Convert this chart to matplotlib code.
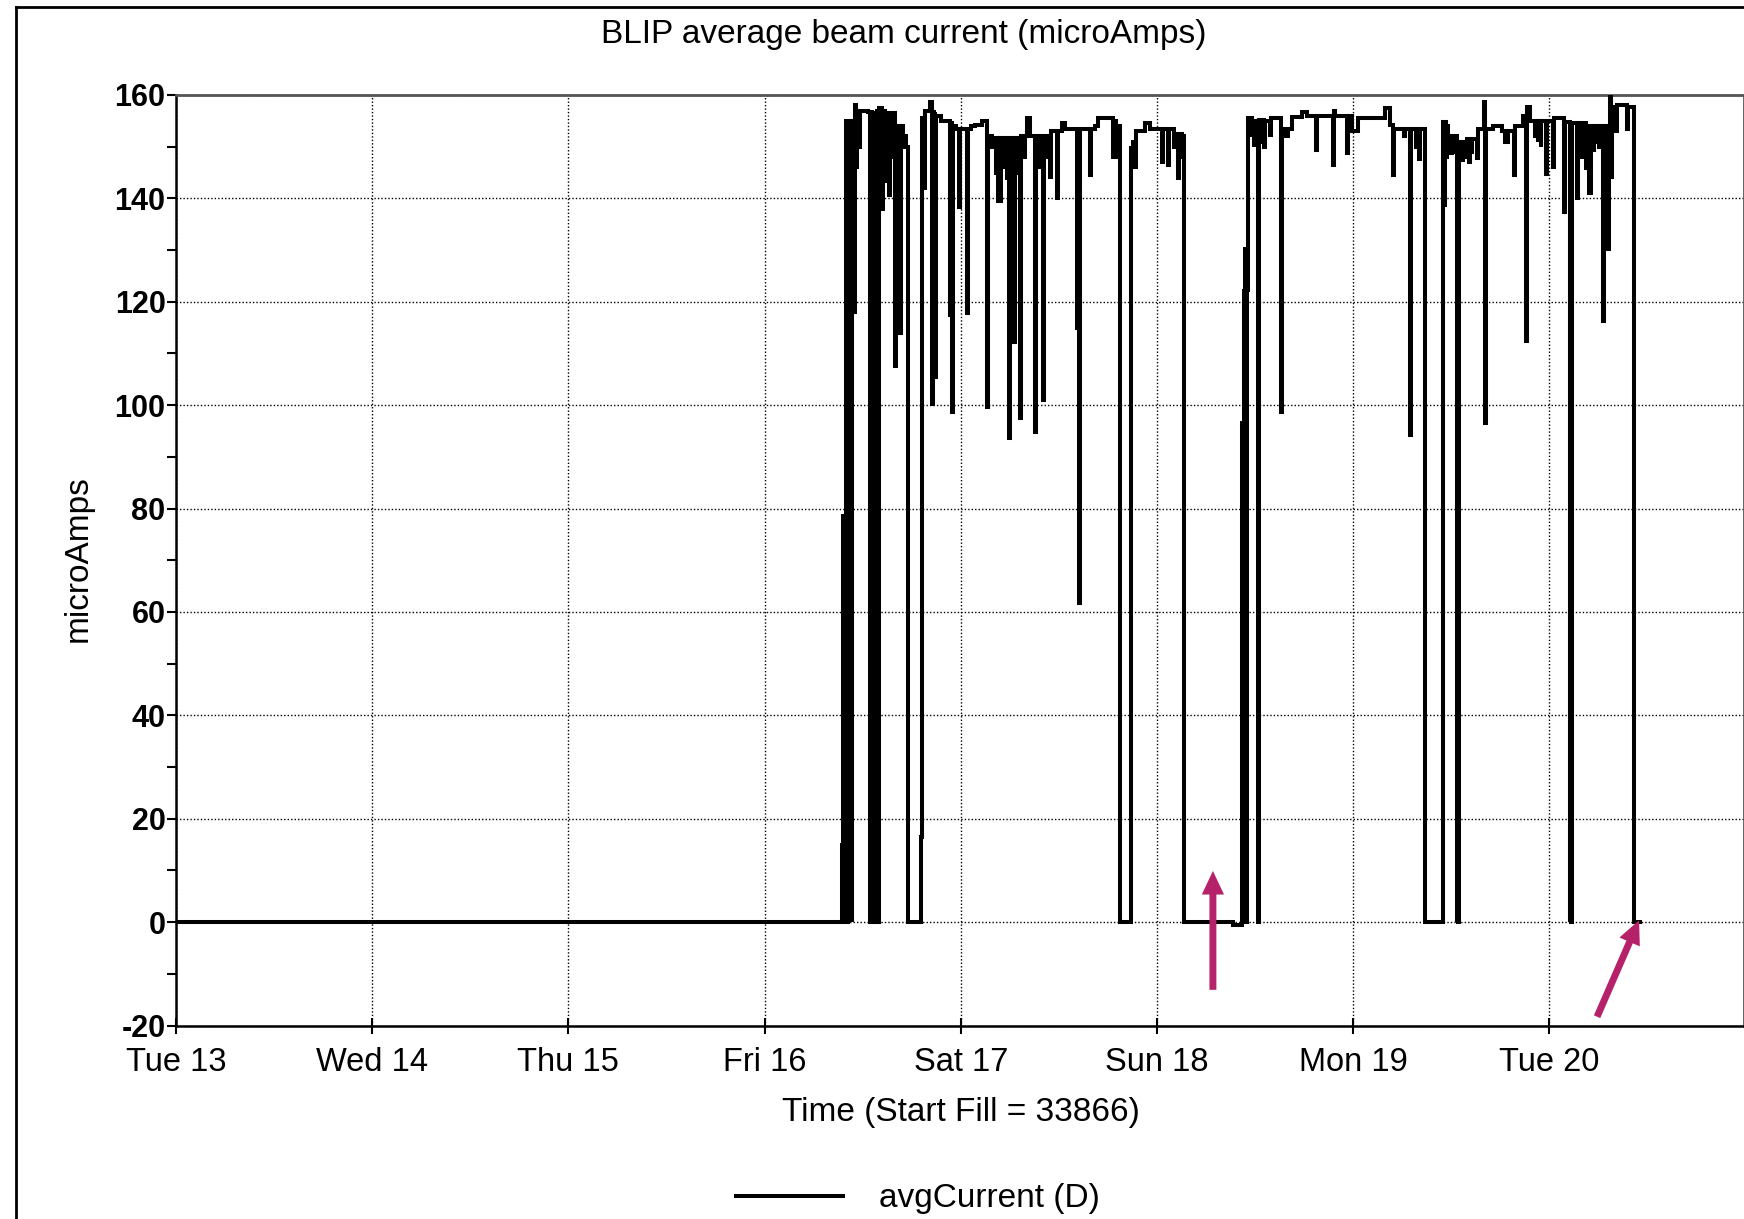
import matplotlib
matplotlib.use('Agg')
import matplotlib.pyplot as plt
from matplotlib.patches import ArrowStyle
from matplotlib.lines import Line2D
from matplotlib.ticker import MultipleLocator, FixedLocator

plt.rcParams['font.family'] = ['Liberation Sans', 'DejaVu Sans']
plt.rcParams['axes.unicode_minus'] = False

# ---------------- data ----------------
title = "BLIP average beam current (microAmps)"
x_label = "Time (Start Fill = 33866)"
y_label = "microAmps"
series_name = "avgCurrent (D)"
day_labels = ['Tue 13', 'Wed 14', 'Thu 15', 'Fri 16', 'Sat 17',
              'Sun 18', 'Mon 19', 'Tue 20', 'Wed 21']
y_ticks = [-20, 0, 20, 40, 60, 80, 100, 120, 140, 160]

# time in days since Tue 13 00:00 (step data)
t_days = [
    0.000, 3.396, 3.402, 3.409, 3.413, 3.419, 3.423, 3.430, 3.434, 3.440,
    3.444, 3.448, 3.454, 3.459, 3.468, 3.473, 3.483, 3.487, 3.529, 3.536,
    3.540, 3.545, 3.550, 3.556, 3.560, 3.567, 3.571, 3.578, 3.583, 3.589,
    3.593, 3.600, 3.604, 3.612, 3.616, 3.624, 3.628, 3.636, 3.640, 3.650,
    3.654, 3.665, 3.670, 3.680, 3.685, 3.690, 3.695, 3.705, 3.712, 3.720,
    3.733, 3.798, 3.804, 3.812, 3.816, 3.843, 3.851, 3.856, 3.862, 3.866,
    3.870, 3.874, 3.900, 3.930, 3.944, 3.949, 3.954, 3.960, 3.978, 3.990,
    3.996, 4.030, 4.036, 4.050, 4.073, 4.107, 4.134, 4.140, 4.160, 4.165,
    4.180, 4.185, 4.192, 4.197, 4.201, 4.206, 4.212, 4.216, 4.225, 4.230,
    4.237, 4.241, 4.248, 4.253, 4.262, 4.267, 4.272, 4.277, 4.282, 4.286,
    4.290, 4.295, 4.304, 4.309, 4.320, 4.325, 4.336, 4.353, 4.378, 4.383,
    4.395, 4.400, 4.420, 4.425, 4.440, 4.445, 4.455, 4.460, 4.488, 4.493,
    4.514, 4.531, 4.590, 4.604, 4.609, 4.659, 4.664, 4.685, 4.700, 4.760,
    4.775, 4.780, 4.790, 4.795, 4.810, 4.870, 4.880, 4.888, 4.893, 4.939,
    4.964, 5.024, 5.029, 5.054, 5.059, 5.085, 5.090, 5.105, 5.110, 5.125,
    5.130, 5.139, 5.388, 5.431, 5.443, 5.447, 5.452, 5.458, 5.466, 5.482,
    5.487, 5.492, 5.496, 5.515, 5.520, 5.530, 5.534, 5.545, 5.549, 5.575,
    5.582, 5.631, 5.636, 5.660, 5.667, 5.686, 5.737, 5.762, 5.810, 5.815,
    5.895, 5.900, 5.907, 5.966, 5.972, 5.992, 6.026, 6.162, 6.187, 6.204,
    6.210, 6.260, 6.266, 6.289, 6.294, 6.318, 6.323, 6.336, 6.341, 6.365,
    6.459, 6.465, 6.470, 6.475, 6.479, 6.485, 6.497, 6.503, 6.510, 6.514,
    6.527, 6.531, 6.535, 6.540, 6.553, 6.558, 6.565, 6.569, 6.578, 6.590,
    6.594, 6.600, 6.605, 6.629, 6.635, 6.638, 6.666, 6.670, 6.675, 6.714,
    6.757, 6.774, 6.790, 6.821, 6.826, 6.867, 6.879, 6.884, 6.901, 6.925,
    6.930, 6.940, 6.944, 6.955, 6.959, 6.983, 6.988, 7.017, 7.022, 7.076,
    7.082, 7.103, 7.107, 7.111, 7.116, 7.142, 7.148, 7.160, 7.164, 7.185,
    7.190, 7.204, 7.210, 7.225, 7.229, 7.240, 7.245, 7.255, 7.259, 7.275,
    7.280, 7.300, 7.305, 7.311, 7.315, 7.320, 7.340, 7.344, 7.368, 7.394,
    7.400, 7.432, 7.460,
]
avg_current = [
    0.0, 15.0, 78.6, 0.0, 155.0, 0.0, 154.8, 114.0, 155.0, 117.8,
    0.0, 155.0, 118.0, 158.0, 146.0, 157.0, 150.0, 157.0, 156.8, 0.0,
    156.8, 0.0, 156.0, 0.0, 156.5, 0.0, 157.0, 0.0, 157.4, 142.0,
    157.4, 138.0, 157.0, 143.0, 156.5, 145.0, 156.5, 140.7, 156.5, 148.0,
    156.5, 107.5, 154.0, 113.9, 154.0, 114.0, 154.0, 150.0, 152.0, 150.0,
    0.0, 16.5, 155.6, 142.0, 157.0, 158.7, 100.2, 156.8, 105.5, 156.8,
    105.5, 156.0, 155.0, 155.0, 117.5, 154.5, 98.7, 154.0, 153.5, 138.4,
    153.5, 117.8, 153.5, 154.0, 154.2, 155.0, 99.7, 152.0, 150.0, 151.6,
    145.0, 151.6, 139.4, 151.6, 139.4, 151.6, 147.0, 151.6, 146.0, 151.6,
    144.0, 151.6, 93.6, 151.6, 112.3, 151.6, 112.3, 151.6, 146.0, 151.6,
    145.0, 151.6, 97.6, 152.0, 148.0, 152.0, 155.5, 152.0, 94.9, 152.0,
    146.0, 152.0, 101.0, 152.0, 148.0, 152.0, 144.2, 153.0, 140.0, 153.0,
    154.5, 153.5, 114.9, 61.7, 153.5, 144.5, 153.5, 154.0, 155.5, 155.5,
    148.0, 155.0, 148.0, 154.0, 0.0, 149.7, 151.0, 146.0, 153.0, 154.5,
    153.5, 147.0, 153.5, 146.5, 153.5, 150.0, 152.5, 143.9, 152.5, 148.0,
    152.0, 0.0, -0.6, 96.5, 122.0, 130.3, 0.0, 122.3, 155.5, 152.3,
    155.0, 150.0, 155.0, 0.0, 155.2, 151.0, 155.2, 150.0, 155.0, 152.3,
    155.5, 98.7, 153.5, 152.0, 153.5, 155.8, 156.8, 156.0, 149.4, 156.0,
    146.5, 157.0, 156.0, 148.7, 156.0, 153.0, 155.5, 157.4, 154.2, 144.5,
    153.5, 152.0, 153.5, 94.2, 153.5, 150.0, 153.5, 147.7, 153.5, 0.0,
    154.8, 138.7, 154.8, 148.0, 154.0, 152.0, 148.7, 152.0, 149.0, 152.0,
    0.0, 151.0, 0.0, 151.0, 147.4, 151.0, 148.0, 151.0, 151.5, 147.0,
    151.5, 149.0, 151.5, 147.8, 151.5, 153.5, 158.7, 96.5, 153.5, 154.0,
    153.0, 151.0, 153.0, 144.5, 154.0, 156.0, 112.4, 157.7, 155.0, 152.0,
    155.0, 151.0, 155.0, 150.0, 155.0, 144.8, 155.0, 146.1, 155.5, 137.4,
    154.8, 0.0, 154.0, 0.0, 154.5, 140.0, 154.5, 148.0, 154.5, 145.8,
    154.0, 141.0, 154.0, 149.0, 154.0, 151.0, 154.0, 150.0, 154.0, 116.2,
    154.0, 130.2, 154.0, 162.0, 144.2, 157.7, 153.0, 158.0, 158.0, 153.5,
    157.7, 0.0, 0.0,
]
assert len(t_days) == len(avg_current)

# annotation arrows (tail -> tip) in data coords
arrow_tails = [(5.285, -13.1), (7.243, -18.3)]
arrow_tips = [(5.285, 9.9), (7.457, 0.35)]

# ---------------- figure ----------------
W, H = 1744, 1219
fig = plt.figure(figsize=(W / 100, H / 100), dpi=100)

# outer frame
fig.add_artist(Line2D([16 / W, 16 / W], [0, 1 - 7 / H], color='black', lw=2.0))
fig.add_artist(Line2D([16 / W, 1], [1 - 7 / H, 1 - 7 / H], color='black', lw=2.0))

ax_left, ax_right, ax_top, ax_bot = 176, 1744, 95, 1025.5
ax = fig.add_axes([ax_left / W, 1 - ax_bot / H, (ax_right - ax_left) / W,
                   (ax_bot - ax_top) / H])

line, = ax.plot(t_days, avg_current, drawstyle='steps-post', color='black',
                lw=2.9, solid_joinstyle='miter', zorder=3)

day_px = 196.2
ax.set_xlim(0, (ax_right - ax_left) / day_px)
ax.set_ylim(-20, 160)

ax.xaxis.set_major_locator(FixedLocator(list(range(len(day_labels)))))
ax.set_xticklabels(day_labels)
ax.yaxis.set_major_locator(FixedLocator(y_ticks))
ax.yaxis.set_minor_locator(MultipleLocator(10))

ax.grid(True, which='major', linestyle=(0, (1, 1.5)), color='black', lw=1.0)
ax.set_axisbelow(True)

ax.tick_params(axis='x', which='major', direction='inout', length=11, width=1.5,
               labelsize=23.5, pad=10)
ax.tick_params(axis='y', which='major', direction='out', length=6.5, width=1.5,
               labelsize=22, pad=1)
ax.tick_params(axis='y', which='minor', direction='out', length=6.5, width=1.5)
for lab in ax.get_yticklabels():
    lab.set_fontweight('bold')

for s in ['left', 'bottom']:
    ax.spines[s].set_linewidth(1.8)
    ax.spines[s].set_color('black')
for s in ['top', 'right']:
    ax.spines[s].set_linewidth(2.0)
    ax.spines[s].set_color('#555555')

# texts
fig.text(903.7 / W, 1 - 35 / H, title, ha='center', va='center', fontsize=24)
fig.text(961 / W, 1 - 1112 / H, x_label, ha='center', va='center', fontsize=24)
fig.text(78 / W, 1 - 559 / H, y_label, ha='center', va='center', fontsize=24,
         rotation=90)

leg = fig.legend([line], [series_name], loc='center left',
                 bbox_to_anchor=(736 / W, 1 - 1199 / H), frameon=False,
                 fontsize=24, handlelength=3.2, handletextpad=1.1,
                 borderpad=0, borderaxespad=0)

# arrows
acolor = '#B5226A'
for tail, tip in zip(arrow_tails, arrow_tips):
    ax.annotate('', xy=tip, xytext=tail,
                arrowprops=dict(arrowstyle=ArrowStyle.Simple(head_length=17,
                                                             head_width=16,
                                                             tail_width=5),
                                mutation_scale=1, color=acolor, lw=0,
                                shrinkA=0, shrinkB=0),
                zorder=5)

fig.savefig('out.png', dpi=100)
